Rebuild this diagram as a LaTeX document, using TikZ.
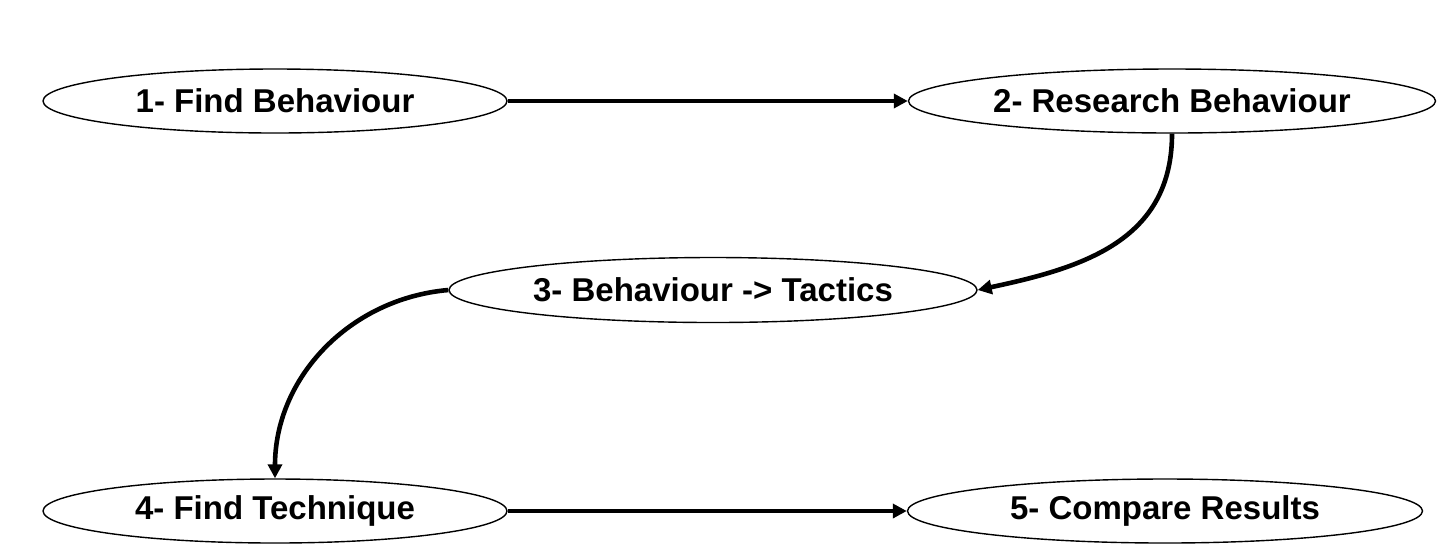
\documentclass[tikz,border=0pt]{standalone}
\usepackage{fontspec}
\setmainfont{Liberation Sans}
\usetikzlibrary{shapes.geometric,arrows.meta}
\begin{document}
\begin{tikzpicture}[x=0.5pt,y=-0.5pt,
        stage/.style={draw, ellipse, line width=0.7pt, fill=white, inner sep=0pt,
            minimum height=32pt, font=\bfseries\fontsize{16.5}{19}\selectfont},
        flow/.style={line width=2.3pt, -{Triangle[length=7pt,width=7pt]}}]
        \useasboundingbox (0,0) rectangle (1438,553);

        % Draw the stages
        \node[stage, minimum width=232pt] (find) at (275,101) {1- Find Behaviour};
        \node[stage, minimum width=263.5pt] (research) at (1172,101) {2- Research Behaviour};
        \node[stage, minimum width=264pt, minimum height=32.5pt] (tactics) at (713,290) {3- Behaviour -> Tactics};
        \node[stage, minimum width=232pt] (technique) at (275,511) {4- Find Technique};
        \node[stage, minimum width=257.5pt] (compare) at (1165,511) {5- Compare Results};

        % Draw the straight arrows
        \draw[flow] (find.east) -- (research.west);
        \draw[flow] (technique.east) -- (compare.west);

        % Draw the curved arrows
        \draw[flow] (research.south) to [out=270, in=12, looseness=1.1] (tactics.east);
        \draw[flow] (tactics.west) to [out=185, in=90] (technique.north);
    \end{tikzpicture}
\end{document}
